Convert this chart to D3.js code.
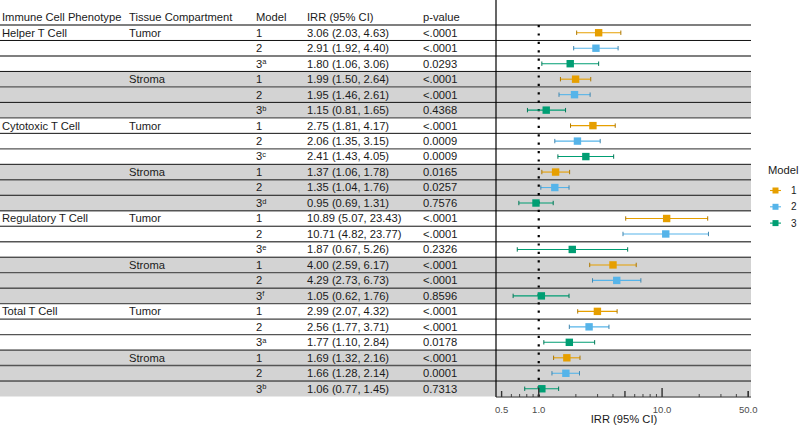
<!DOCTYPE html>
<html>
<head>
<meta charset="utf-8">
<script src="https://cdn.jsdelivr.net/npm/d3@7"></script>
<style>
  body { margin: 0; background: #fff; }
  svg text { font-family: "Liberation Sans", Arial, sans-serif; fill: #1a1a1a; }
</style>
</head>
<body>
<div id="chart"></div>
<script>
// table data, one entry per row
const phenotypes = ["Helper T Cell", "Cytotoxic T Cell", "Regulatory T Cell", "Total T Cell"];
const compartments = ["Tumor", "Stroma"];
const models = ["1", "2", "3"];
const irr   = [3.06, 2.91, 1.80, 1.99, 1.95, 1.15, 2.75, 2.06, 2.41, 1.37, 1.35, 0.95,
               10.89, 10.71, 1.87, 4.00, 4.29, 1.05, 2.99, 2.56, 1.77, 1.69, 1.66, 1.06];
const lower = [2.03, 1.92, 1.06, 1.50, 1.46, 0.81, 1.81, 1.35, 1.43, 1.06, 1.04, 0.69,
               5.07, 4.82, 0.67, 2.59, 2.73, 0.62, 2.07, 1.77, 1.10, 1.32, 1.28, 0.77];
const upper = [4.63, 4.40, 3.06, 2.64, 2.61, 1.65, 4.17, 3.15, 4.05, 1.78, 1.76, 1.31,
               23.43, 23.77, 5.26, 6.17, 6.73, 1.76, 4.32, 3.71, 2.84, 2.16, 2.14, 1.45];
const pvals = ["<.0001", "<.0001", "0.0293", "<.0001", "<.0001", "0.4368",
               "<.0001", "0.0009", "0.0009", "0.0165", "0.0257", "0.7576",
               "<.0001", "<.0001", "0.2326", "<.0001", "<.0001", "0.8596",
               "<.0001", "<.0001", "0.0178", "<.0001", "0.0001", "0.7313"];
const footnotes = ["a", "b", "c", "d", "e", "f", "a", "b"];
const headers = ["Immune Cell Phenotype", "Tissue Compartment", "Model", "IRR (95% CI)", "p-value"];
const tickValues = [0.5, 1, 10, 50];

const rows = [];
phenotypes.forEach((ph, pi) => {
  compartments.forEach((cp, ci) => {
    models.forEach((m, mi) => {
      const i = rows.length;
      rows.push({
        i, phenotype: (ci === 0 && mi === 0) ? ph : "",
        compartment: mi === 0 ? cp : "",
        model: m, sup: mi === 2 ? footnotes[pi * 2 + ci] : "",
        stroma: ci === 1,
        irr: irr[i], lo: lower[i], hi: upper[i], p: pvals[i]
      });
    });
  });
});

const W = 800, H = 426;
const svg = d3.select("#chart").append("svg").attr("width", W).attr("height", H);

const y = d3.scaleBand().domain(rows.map(d => d.i)).range([25, 396.5]);
const x = d3.scaleLog().domain([0.5, 50]).range([501.6, 748.3]);
const color = d3.scaleOrdinal().domain(models).range(["#E69F00", "#56B4E9", "#009E73"]);
const colX = [2, 129, 256, 307, 423];
const panelL = 496, panelR = 751;
const fs = "11.2px";

// shaded stroma rows
svg.append("g").selectAll("rect")
  .data(rows.filter(d => d.stroma))
  .join("rect")
    .attr("x", 0).attr("width", panelR)
    .attr("y", d => y(d.i)).attr("height", y.bandwidth())
    .attr("fill", "#d3d3d3");

// row lines
svg.append("g").selectAll("line")
  .data(rows)
  .join("line")
    .attr("x1", 0).attr("x2", panelR)
    .attr("y1", d => y(d.i)).attr("y2", d => y(d.i))
    .attr("stroke", (d, k) => k % 2 === 0 ? "#555" : "#111")
    .attr("stroke-width", (d, k) => k % 2 === 0 ? 1.4 : 1);

// header
svg.append("g").selectAll("text")
  .data(headers)
  .join("text")
    .attr("x", (d, k) => colX[k]).attr("y", 17)
    .attr("dy", "0.35em")
    .style("font-size", fs)
    .text(d => d);

// table cells
const cell = svg.append("g").selectAll("g")
  .data(rows)
  .join("g")
    .attr("transform", d => `translate(0,${y(d.i) + y.bandwidth() / 2})`)
    .style("font-size", fs);

cell.append("text").attr("x", colX[0]).attr("dy", "0.35em").text(d => d.phenotype);
cell.append("text").attr("x", colX[1]).attr("dy", "0.35em").text(d => d.compartment);
const mt = cell.append("text").attr("x", colX[2]).attr("dy", "0.35em").text(d => d.model);
mt.filter(d => d.sup).append("tspan")
  .attr("dy", "-0.45em").style("font-size", "7.5px").text(d => d.sup);
cell.append("text").attr("x", colX[3]).attr("dy", "0.35em")
  .text(d => `${d.irr.toFixed(2)} (${d.lo.toFixed(2)}, ${d.hi.toFixed(2)})`);
cell.append("text").attr("x", colX[4]).attr("dy", "0.35em").text(d => d.p);

// reference line at IRR = 1
svg.append("line")
  .attr("x1", x(1)).attr("x2", x(1))
  .attr("y1", 25).attr("y2", 397)
  .attr("stroke", "#000").attr("stroke-width", 2.2)
  .attr("stroke-dasharray", "2.2,6.2");

// error bars and points
const mark = svg.append("g").selectAll("g")
  .data(rows)
  .join("g")
    .attr("transform", d => `translate(0,${y(d.i) + y.bandwidth() / 2})`);

mark.append("line")
  .attr("x1", d => x(d.lo)).attr("x2", d => x(d.hi))
  .attr("stroke", d => color(d.model)).attr("stroke-width", 1.1);
mark.selectAll("line.cap")
  .data(d => [d.lo, d.hi].map(v => ({ v, model: d.model })))
  .join("line")
    .attr("class", "cap")
    .attr("x1", d => x(d.v)).attr("x2", d => x(d.v))
    .attr("y1", -2.2).attr("y2", 2.2)
    .attr("stroke", d => d3.color(color(d.model)).darker(0.8)).attr("stroke-width", 1);
mark.append("rect")
  .attr("x", d => x(d.irr) - 3.7).attr("y", -3.7)
  .attr("width", 7.4).attr("height", 7.4)
  .attr("fill", d => color(d.model));

// panel left border
svg.append("line")
  .attr("x1", panelL).attr("x2", panelL).attr("y1", 0).attr("y2", 397)
  .attr("stroke", "#000").attr("stroke-width", 1.2);

// bottom axis with inward log ticks
svg.append("line")
  .attr("x1", panelL).attr("x2", panelR).attr("y1", 397).attr("y2", 397)
  .attr("stroke", "#222").attr("stroke-width", 1.2);

const logTicks = [];
[0.1, 1, 10].forEach(base => {
  for (let k = 1; k <= 9; k++) {
    const v = +(base * k).toPrecision(3);
    if (v >= 0.5 && v <= 50) logTicks.push({ v, len: k === 1 ? 9 : k === 5 ? 6 : 3 });
  }
});
logTicks.push({ v: 50, len: 6 });

svg.append("g").selectAll("line")
  .data(logTicks)
  .join("line")
    .attr("x1", d => x(d.v)).attr("x2", d => x(d.v))
    .attr("y1", 397).attr("y2", d => 397 - d.len)
    .attr("stroke", "#333").attr("stroke-width", d => d.len > 3 ? 1.4 : 0.9);

svg.append("g").selectAll("text")
  .data(tickValues)
  .join("text")
    .attr("x", d => x(d)).attr("y", 410)
    .attr("dy", "0.35em")
    .attr("text-anchor", "middle")
    .style("font-size", "9.5px").style("fill", "#4d4d4d")
    .text(d => d.toFixed(1));

svg.append("text")
  .attr("x", 624).attr("y", 419)
  .attr("dy", "0.35em").attr("text-anchor", "middle")
  .style("font-size", fs)
  .text("IRR (95% CI)");

// legend
const legend = svg.append("g").attr("transform", "translate(768,170.5)");
legend.append("text").attr("x", 0).attr("dy", "0.35em").style("font-size", fs).text("Model");
const key = legend.selectAll("g")
  .data(models)
  .join("g")
    .attr("transform", (d, k) => `translate(0,${20 + k * 16.3})`);
key.append("line")
  .attr("x1", 2).attr("x2", 13)
  .attr("stroke", d => color(d)).attr("stroke-width", 1.1);
key.append("rect")
  .attr("x", 4.5).attr("y", -3).attr("width", 6).attr("height", 6)
  .attr("fill", d => color(d));
key.append("text").attr("x", 23).attr("dy", "0.35em").style("font-size", "10px").text(d => d);
</script>
</body>
</html>
